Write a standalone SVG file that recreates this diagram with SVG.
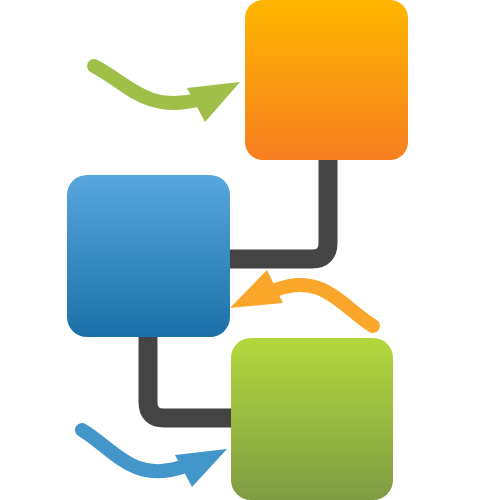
<svg xmlns="http://www.w3.org/2000/svg" width="500" height="500" viewBox="0 0 500 500">
<defs>
<linearGradient id="gO" x1="0" y1="0" x2="0" y2="1"><stop offset="0" stop-color="#ffb600"/><stop offset="1" stop-color="#f67e20"/></linearGradient>
<linearGradient id="gB" x1="0" y1="0" x2="0" y2="1"><stop offset="0" stop-color="#58a7de"/><stop offset="1" stop-color="#1a70a8"/></linearGradient>
<linearGradient id="gG" x1="0" y1="0" x2="0" y2="1"><stop offset="0" stop-color="#b3d83c"/><stop offset="1" stop-color="#7e9c44"/></linearGradient>
<style>
.conn{fill:none;stroke:#444;stroke-width:19}
.arr{fill:none;stroke-width:14;stroke-linecap:round}
</style>
</defs>
<rect width="500" height="500" fill="#fff"/>
<g id="connectors">
<path class="conn" d="M328 160 V243 Q328 259 312 259 H228"/>
<path class="conn" d="M148 335 V402 Q148 418 164 418 H233"/>
</g>
<g id="arrows">
<g id="arrow-green">
<path class="arr" stroke="#a0bf48" d="M94 66 C130 85 145 112 198 100"/>
<polygon fill="#a0bf48" points="187,88 240,82 205,122"/>
</g>
<g id="arrow-orange">
<path class="arr" stroke="#f9a62b" d="M373 326 C340 305 322 272 275 290"/>
<polygon fill="#f9a62b" points="267,270 230,308 283,303"/>
</g>
<g id="arrow-blue">
<path class="arr" stroke="#4396c9" d="M82 430 C115 450 132 483 182 467"/>
<polygon fill="#4396c9" points="175,455 227,449 192,487"/>
</g>
</g>
<g id="node-orange"><rect x="245" y="0" width="163" height="160" rx="18" fill="url(#gO)"/></g>
<g id="node-blue"><rect x="67" y="175" width="163" height="162" rx="20" fill="url(#gB)"/></g>
<g id="node-green"><rect x="231" y="338" width="162" height="162" rx="20" fill="url(#gG)"/></g>
</svg>
